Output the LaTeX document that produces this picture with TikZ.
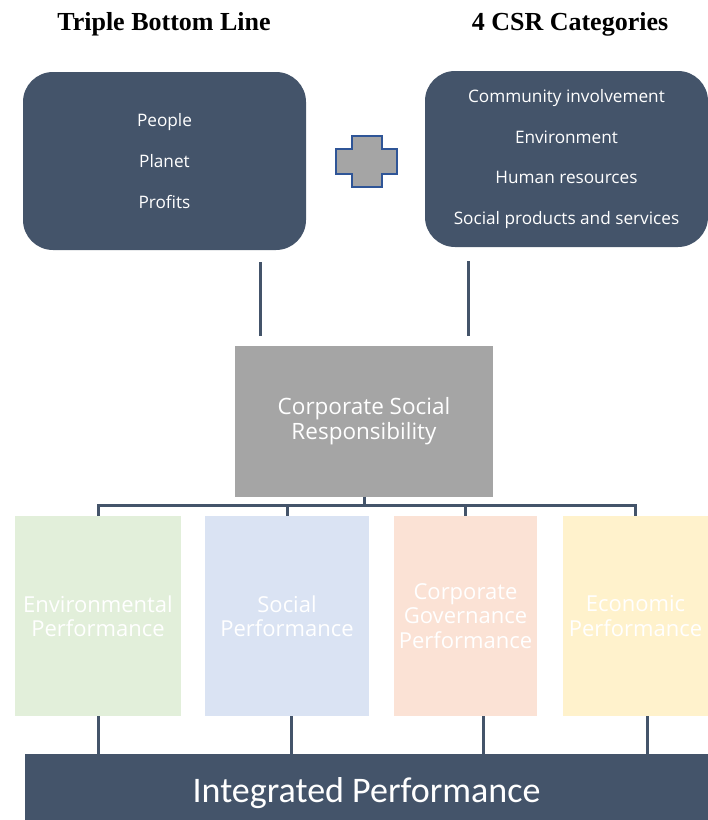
\documentclass[tikz,border=0pt]{standalone}
\usepackage{fontspec}
\setmainfont{Liberation Serif}
\setsansfont{Open Sans}
\newfontfamily\calibrifont{Carlito}
\usetikzlibrary{positioning}
\definecolor{SlateBlue}{HTML}{44546A}
\definecolor{PlusGray}{HTML}{A5A5A5}
\definecolor{PlusEdge}{HTML}{2F5597}
\definecolor{EnvGreen}{HTML}{E2EFDA}
\definecolor{SocBlue}{HTML}{DAE3F3}
\definecolor{GovPeach}{HTML}{FBE2D5}
\definecolor{EconYellow}{HTML}{FFF2CC}
\tikzset{
  heading/.style={font=\fontsize{26}{30}\selectfont\bfseries,text=black},
  pillarbox/.style={fill=SlateBlue,rounded corners=30pt,text=white,align=center,
    font=\sffamily\fontsize{17.2}{40.7}\selectfont,minimum width=283pt},
  csrbox/.style={fill=PlusGray,text=white,align=center,minimum width=258pt,minimum height=151pt,
    font=\sffamily\fontsize{22.5}{25}\selectfont},
  perfbox/.style={text=white,align=center,minimum height=200pt,inner sep=1pt,
    font=\sffamily\fontsize{22}{24.5}\selectfont},
  totalbox/.style={fill=SlateBlue,text=white,minimum width=683pt,minimum height=66pt,
    text height=31pt,text depth=0pt,font=\calibrifont\fontsize{36}{40}\selectfont},
  link/.style={draw=SlateBlue,line width=3pt},
  plusmark/.style={fill=PlusGray,draw=PlusEdge,line width=1.5pt}
}
\begin{document}
\begin{tikzpicture}[x=1pt,y=-1pt]
  \useasboundingbox (0,0) rectangle (708,820);

  % headings
  \node[heading] (tbltitle) at (164,24) {Triple Bottom Line};
  \node[heading] (catstitle) at (570,24) {4 CSR Categories};

  % the two sources
  \node[pillarbox,minimum height=178pt] (tbl) at (164.5,161) {People\\Planet\\Profits};
  \node[pillarbox,minimum height=176pt] (cats) at (566.5,159)
    {Community involvement\\Environment\\Human resources\\Social products and services};

  % plus sign
  \draw[plusmark] (352,136) -- (382,136) -- (382,149) -- (397,149) -- (397,174) -- (382,174)
    -- (382,187) -- (352,187) -- (352,174) -- (336,174) -- (336,149) -- (352,149) -- cycle;

  \node[csrbox] (csr) at (364,421) {Corporate Social\\Responsibility};

  \coordinate (tblleg) at ([xshift=26pt]csr.north west);
  \coordinate (catsleg) at ([xshift=-25pt]csr.north east);
  \draw[link,shorten <=12pt,shorten >=9pt] (tblleg |- tbl.south) -- (tblleg);
  \draw[link,shorten <=14pt,shorten >=9pt] (catsleg |- cats.south) -- (catsleg);

  % performance boxes
  \node[perfbox,fill=EnvGreen,minimum width=166pt] (envperf) at (98,616) {Environmental\\Performance};
  \node[perfbox,fill=SocBlue,minimum width=164pt] (socperf) at (287,616) {Social\\Performance};
  \node[perfbox,fill=GovPeach,minimum width=143pt] (govperf) at (465.5,616) {Corporate\\Governance\\Performance};
  \node[perfbox,fill=EconYellow,minimum width=145pt] (econperf) at (635.5,616) {Economic\\Performance};

  % tree below CSR
  \coordinate (bus) at ([yshift=-9pt]csr.south);
  \draw[link] (csr.south) -- (bus);
  \draw[link] (envperf.north) |- (bus) -| (econperf.north);
  \draw[link] (socperf.north) -- (socperf.north |- bus);
  \draw[link] (govperf.north) -- (govperf.north |- bus);

  \node[totalbox] (intperf) at (366.5,787) {Integrated Performance};

  \foreach \src/\dx in {envperf/0,socperf/4,govperf/18,econperf/12} {
    \coordinate (leg) at ([xshift=\dx pt]\src.south);
    \draw[link] (leg) -- (leg |- intperf.north);
  }
\end{tikzpicture}
\end{document}
